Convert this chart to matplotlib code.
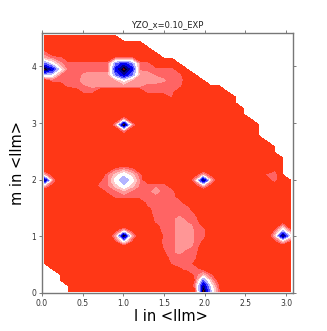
import numpy as np
import matplotlib
matplotlib.use('Agg')
import matplotlib.pyplot as plt

# grid nodes of the map, in r.l.u.
l_start, l_step, l_count = 0.03, 0.0977, 32
m_start, m_step, m_count = 0.03, 0.098, 47

# intensity, one base-36 digit per node, '.' = no data
# top row of the map first, blanks only group the columns in tens
intensity_rows = [
    "0000000000",
    "0000000000 000",
    "0000000000 0000",
    "7000000000 00000",
    "a870000007 7700000",
    "ng9777778m sm870000",
    "zsf777777s zs8777700",
    "ig8779aaam umaa877700",
    "07777aaaaa faaaa978200",
    "0007889999 9997777700000",
    "0000077000 00077770000000",
    "0000000000 000000600000000",
    "0000000000 0000000000 00000",
    "0000000000 0000000000 000000",
    "0000000000 0000000000 000000",
    "0000000000 9000000000 0000000",
    "0000000009 z900000000 00000000",
    "0000000000 9000000000 00000000",
    "0000000000 0000000000 00000000",
    "0000000000 0000000000 000000000",
    "0000000000 0000000000 0000000000",
    "0000000000 0000000000 0000000000",
    "0000000000 0000000000 00000000000",
    "0000000000 0000000000 00000000000",
    "0000000007 9700000000 00000000050",
    "a30000008c hc70000003 a3000000671",
    "x90000058g lg8000000a xa0000003700",
    "a30000078c hc88880003 a30000000000",
    "0000000078 a877a78000 000000000000",
    "0000000007 7777778300 000000000000",
    "0000000000 0007777700 000000000000",
    "0000000000 0005777770 000000000000",
    "0000000000 0004777785 000000000000",
    "0000000000 0000777a77 000000000000",
    "0000000000 0000577a98 400000000070",
    "0000000003 a300377aa8 7000000006h6",
    "000000000b yb00067aa8 700000000bxf",
    "0000000005 f500077aa8 5000000004b4",
    "0000000000 0000067a98 200000000000",
    "0000000000 0000058977 000000000000",
    "0000000000 0000037776 000000000000",
    "0000000000 0000006784 000000000000",
    ".000000000 0000000577 400000000000",
    "..00000000 0000000007 b60000000000",
    "..00000000 0000000006 ma3000000000",
    "...0000000 0000000008 vf5000000000",
    "...0000000 0000000004 zi6000000000",
]

band_edges = [-1, 6, 8.5, 11, 14, 18, 22, 26, 30, 33, 34.5, 36]
band_colors = ['#ff3716', '#ff6464', '#ff9696', '#ffc8c8', '#ffffff', '#b4b4ff',
               '#5050ff', '#0000f0', '#00008c', '#000028', '#800000']

xtick_vals = [0.0, 0.5, 1.0, 1.5, 2.0, 2.5, 3.0]
ytick_vals = [0, 1, 2, 3, 4]


def decode(rows):
    z = np.full((m_count, l_count), np.nan)
    for i, row in enumerate(rows):
        row = row.replace(' ', '')
        for j, ch in enumerate(row):
            if ch != '.':
                z[m_count - 1 - i, j] = int(ch, 36)
    return np.ma.masked_invalid(z)


l = l_start + l_step * np.arange(l_count)
m = m_start + m_step * np.arange(m_count)
z = decode(intensity_rows)

fig = plt.figure(figsize=(3.27, 3.31), dpi=100)
ax = fig.add_axes([42 / 327, 1 - 293 / 331, 251.3 / 327, 260 / 331])
ax.contourf(l, m, z, levels=band_edges, colors=band_colors)
ax.set_xlim(0, 3.09)
ax.set_ylim(0, 4.59)
ax.set_xticks(xtick_vals)
ax.set_yticks(ytick_vals)
ax.tick_params(labelsize=5.5, length=2, width=0.6, color='#666666',
               labelcolor='#333333', pad=2, top=True, right=True)
for spine in ax.spines.values():
    spine.set_color('#777777')
    spine.set_linewidth(1.0)
ax.set_title('YZO_x=0.10_EXP', fontsize=6, color='#222222', pad=4)
ax.set_xlabel('l in <llm>', fontsize=10.5, labelpad=1.5)
ax.xaxis.set_label_coords(0.513, -0.062)
ax.set_ylabel('m in <llm>', fontsize=10.5, labelpad=4.5)
fig.savefig('out.png', dpi=100)
